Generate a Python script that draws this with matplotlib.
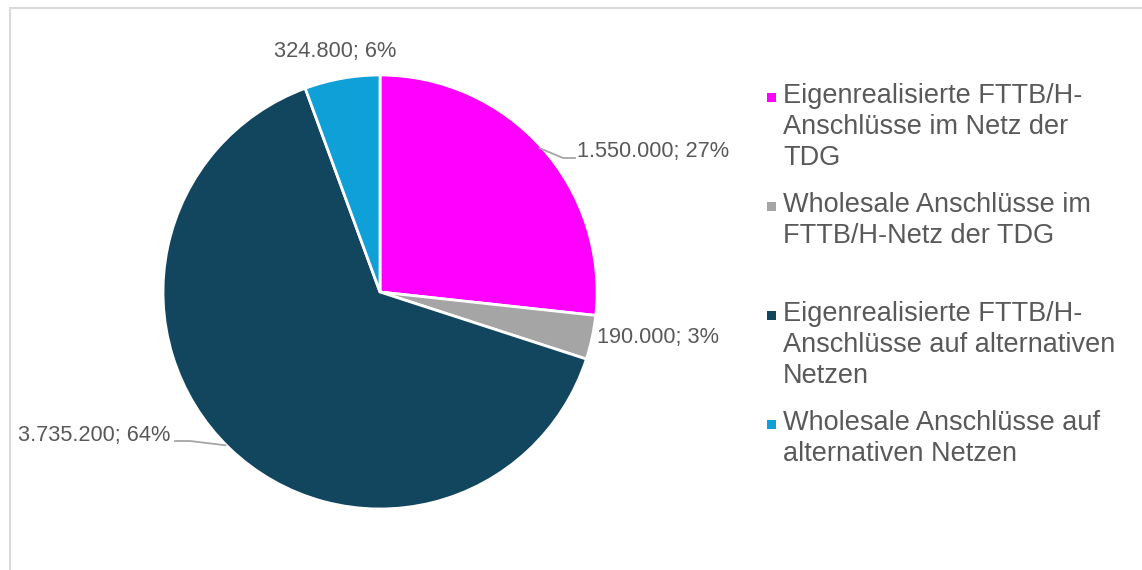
import numpy as np
import matplotlib.pyplot as plt
from matplotlib.patches import Rectangle

plt.rcParams['font.family'] = ['Liberation Sans', 'DejaVu Sans']

# data
values = [1550000, 190000, 3735200, 324800]
value_labels = ['1.550.000', '190.000', '3.735.200', '324.800']
legend_labels = ['Eigenrealisierte FTTB/H-\nAnschlüsse im Netz der\nTDG',
                 'Wholesale Anschlüsse im\nFTTB/H-Netz der TDG',
                 'Eigenrealisierte FTTB/H-\nAnschlüsse auf alternativen\nNetzen',
                 'Wholesale Anschlüsse auf\nalternativen Netzen']
colors = ['#FF00FF', '#A5A5A5', '#12465E', '#10A0D8']

W, H = 1142, 570
fig = plt.figure(figsize=(W / 100, H / 100), dpi=100)
ax = fig.add_axes([0, 0, 1, 1])

# chart frame (left and top border)
ax.add_patch(Rectangle((10, -10), W, H - 8 + 10, fill=False, edgecolor='#D9D9D9', linewidth=1.5))

cx, cy, r = 380, H - 292, 217
wedges, _ = ax.pie(values, colors=colors, startangle=90, counterclock=False,
                   center=(cx, cy), radius=r, frame=True,
                   wedgeprops=dict(edgecolor='white', linewidth=2))
ax.set_xlim(0, W)
ax.set_ylim(0, H)
ax.axis('off')

total = sum(values)
pcts = [round(v / total * 100) for v in values]
txt_color = '#595959'
line_color = '#A6A6A6'
fs_lab = 15.7


def edge_point(w):
    ang = np.deg2rad((w.theta1 + w.theta2) / 2)
    return cx + r * np.cos(ang), cy + r * np.sin(ang)


# label positions (layout), text anchored left / right
lab_pos = [(577, H - 152, 'left'), (597, H - 338, 'left'),
           (170, H - 436, 'right'), (274, H - 52, 'left')]
for i, w in enumerate(wedges):
    tx, ty, ha = lab_pos[i]
    ax.text(tx, ty, f'{value_labels[i]}; {pcts[i]}%', ha=ha, va='center',
            fontsize=fs_lab, color=txt_color)
    ex, ey = edge_point(w)
    if i == 0:
        ax.plot([ex - 2, 563, 575], [ey - 1, H - 158, H - 158], color=line_color, lw=1.3)
    elif i == 2:
        ax.plot([ex - 4, 190, 175], [ey + 3, H - 441, H - 441], color=line_color, lw=1.3)

# legend
fs_leg = 19.5
for i, lab in enumerate(legend_labels):
    ty = H - 97 - 109 * i
    ax.add_patch(Rectangle((767, ty - 4.5), 8.5, 8.5, facecolor=colors[i], edgecolor='none'))
    ax.text(783, ty + 14, lab, ha='left', va='top', fontsize=fs_leg,
            color=txt_color, linespacing=1.24)

fig.savefig('out.png', dpi=100)
